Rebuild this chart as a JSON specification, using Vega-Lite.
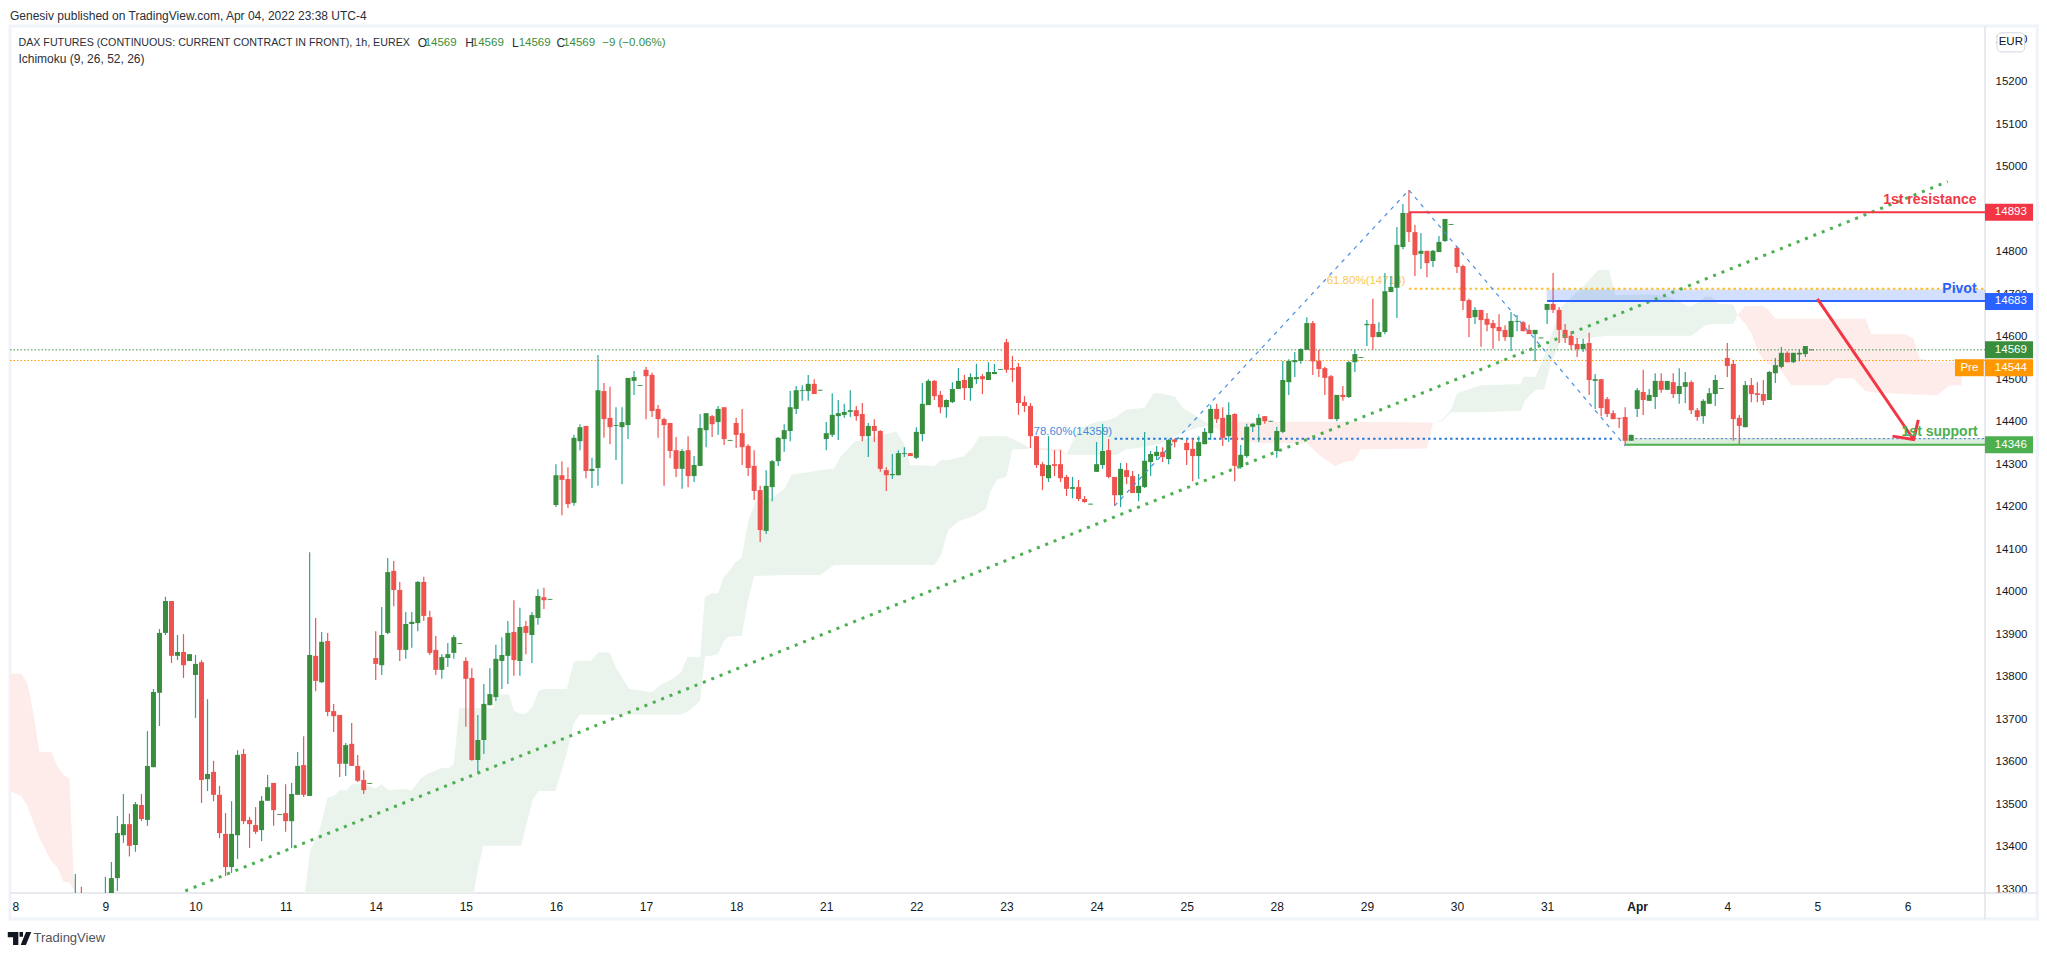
{
  "$schema": "https://vega.github.io/schema/vega-lite/v6.json",
  "description": "DAX futures 1h candles with Ichimoku cloud and drawn levels",
  "width": 1975,
  "height": 867,
  "autosize": {"type": "none"},
  "padding": {"left": 10, "top": 26, "right": 62, "bottom": 61},
  "background": "#ffffff",
  "config": {"view": {"stroke": null}, "text": {"font": "Liberation Sans"}},
  "datasets": {
    "frame": [{"i0": -0.88, "i1": 336.6, "p0": 15331, "p1": 13230}],
    "dividers": [
      {"i0": 327.9, "i1": 327.9, "p0": 15331, "p1": 13230},
      {"i0": -0.88, "i1": 336.6, "p0": 13291, "p1": 13291}
    ],
    "cloudRed": [
      {"part": 1, "i": -1.5, "a": 13807, "b": 13534}, {"part": 1, "i": 1, "a": 13807, "b": 13520}, {"part": 1, "i": 2, "a": 13785, "b": 13496},
      {"part": 1, "i": 3, "a": 13714, "b": 13458}, {"part": 1, "i": 4, "a": 13623, "b": 13420}, {"part": 1, "i": 6, "a": 13623, "b": 13365},
      {"part": 1, "i": 7, "a": 13590, "b": 13352}, {"part": 1, "i": 8, "a": 13570, "b": 13318}, {"part": 1, "i": 9, "a": 13560, "b": 13315},
      {"part": 1, "i": 9.7, "a": 13337, "b": 13300}, {"part": 1, "i": 10.2, "a": 13285, "b": 13285},
      {"part": 2, "i": 169, "a": 14337, "b": 14337}, {"part": 2, "i": 171, "a": 14338, "b": 14333}, {"part": 2, "i": 174, "a": 14336, "b": 14330}, {"part": 2, "i": 175, "a": 14322, "b": 14322},
      {"part": 3, "i": 199, "a": 14392, "b": 14392}, {"part": 3, "i": 203, "a": 14400, "b": 14358}, {"part": 3, "i": 207, "a": 14400, "b": 14349},
      {"part": 3, "i": 215, "a": 14400, "b": 14349}, {"part": 3, "i": 217, "a": 14400, "b": 14322}, {"part": 3, "i": 219.7, "a": 14400, "b": 14296},
      {"part": 3, "i": 221.4, "a": 14400, "b": 14306}, {"part": 3, "i": 222.8, "a": 14400, "b": 14308}, {"part": 3, "i": 224, "a": 14400, "b": 14335},
      {"part": 3, "i": 235, "a": 14398, "b": 14337}, {"part": 3, "i": 236, "a": 14397, "b": 14396},
      {"part": 4, "i": 286.7, "a": 14651, "b": 14651}, {"part": 4, "i": 288, "a": 14672, "b": 14630}, {"part": 4, "i": 289, "a": 14672, "b": 14608},
      {"part": 4, "i": 290, "a": 14672, "b": 14569}, {"part": 4, "i": 290.8, "a": 14672, "b": 14550}, {"part": 4, "i": 291.7, "a": 14665, "b": 14537},
      {"part": 4, "i": 293, "a": 14642, "b": 14528}, {"part": 4, "i": 294, "a": 14642, "b": 14521}, {"part": 4, "i": 295.6, "a": 14642, "b": 14486},
      {"part": 4, "i": 301.7, "a": 14642, "b": 14486}, {"part": 4, "i": 303, "a": 14642, "b": 14502}, {"part": 4, "i": 306, "a": 14642, "b": 14502},
      {"part": 4, "i": 307, "a": 14642, "b": 14486}, {"part": 4, "i": 308, "a": 14642, "b": 14472}, {"part": 4, "i": 309, "a": 14606, "b": 14470},
      {"part": 4, "i": 310, "a": 14606, "b": 14468}, {"part": 4, "i": 314.7, "a": 14606, "b": 14465}, {"part": 4, "i": 316, "a": 14596, "b": 14464},
      {"part": 4, "i": 317, "a": 14549, "b": 14464}, {"part": 4, "i": 318.9, "a": 14541, "b": 14463}, {"part": 4, "i": 320, "a": 14541, "b": 14463},
      {"part": 4, "i": 322, "a": 14541, "b": 14486}, {"part": 4, "i": 324, "a": 14541, "b": 14486}
    ],
    "cloudGreen": [
      {"part": 1, "i": 48, "a": 13270, "b": 13200}, {"part": 1, "i": 49.1, "a": 13392, "b": 13200}, {"part": 1, "i": 50.5, "a": 13431, "b": 13200},
      {"part": 1, "i": 52, "a": 13516, "b": 13200}, {"part": 1, "i": 53, "a": 13519, "b": 13200}, {"part": 1, "i": 54, "a": 13533, "b": 13200},
      {"part": 1, "i": 55.2, "a": 13533, "b": 13200}, {"part": 1, "i": 56, "a": 13547, "b": 13200}, {"part": 1, "i": 57.7, "a": 13547, "b": 13200},
      {"part": 1, "i": 58.8, "a": 13543, "b": 13200}, {"part": 1, "i": 60, "a": 13537, "b": 13200}, {"part": 1, "i": 61, "a": 13547, "b": 13200},
      {"part": 1, "i": 62.1, "a": 13533, "b": 13200}, {"part": 1, "i": 64.6, "a": 13536, "b": 13200}, {"part": 1, "i": 66, "a": 13532, "b": 13200},
      {"part": 1, "i": 67.4, "a": 13559, "b": 13200}, {"part": 1, "i": 68.5, "a": 13571, "b": 13200}, {"part": 1, "i": 71, "a": 13585, "b": 13200},
      {"part": 1, "i": 72.2, "a": 13585, "b": 13200}, {"part": 1, "i": 73, "a": 13595, "b": 13200}, {"part": 1, "i": 73.9, "a": 13726, "b": 13200},
      {"part": 1, "i": 76.3, "a": 13726, "b": 13290}, {"part": 1, "i": 77, "a": 13726, "b": 13345}, {"part": 1, "i": 77.9, "a": 13726, "b": 13402},
      {"part": 1, "i": 79.6, "a": 13726, "b": 13402}, {"part": 1, "i": 79.9, "a": 13758, "b": 13402}, {"part": 1, "i": 82.2, "a": 13758, "b": 13402},
      {"part": 1, "i": 83, "a": 13720, "b": 13402}, {"part": 1, "i": 84.2, "a": 13712, "b": 13402}, {"part": 1, "i": 85, "a": 13713, "b": 13447},
      {"part": 1, "i": 86.1, "a": 13729, "b": 13510}, {"part": 1, "i": 87.1, "a": 13765, "b": 13531}, {"part": 1, "i": 88, "a": 13771, "b": 13531},
      {"part": 1, "i": 89.9, "a": 13771, "b": 13531}, {"part": 1, "i": 90.8, "a": 13771, "b": 13573}, {"part": 1, "i": 91.8, "a": 13771, "b": 13620},
      {"part": 1, "i": 93, "a": 13836, "b": 13692}, {"part": 1, "i": 94, "a": 13837, "b": 13711}, {"part": 1, "i": 95.9, "a": 13838, "b": 13711},
      {"part": 1, "i": 97, "a": 13857, "b": 13711}, {"part": 1, "i": 98.9, "a": 13857, "b": 13711}, {"part": 1, "i": 100, "a": 13821, "b": 13711},
      {"part": 1, "i": 102.2, "a": 13771, "b": 13711}, {"part": 1, "i": 106, "a": 13764, "b": 13711}, {"part": 1, "i": 107.3, "a": 13780, "b": 13711},
      {"part": 1, "i": 109.8, "a": 13798, "b": 13711}, {"part": 1, "i": 110.9, "a": 13812, "b": 13711}, {"part": 1, "i": 111.9, "a": 13847, "b": 13718},
      {"part": 1, "i": 112.4, "a": 13847, "b": 13722}, {"part": 1, "i": 114, "a": 13845, "b": 13743}, {"part": 1, "i": 114.8, "a": 13988, "b": 13847},
      {"part": 1, "i": 115.9, "a": 13996, "b": 13850}, {"part": 1, "i": 117, "a": 13996, "b": 13853}, {"part": 1, "i": 117.9, "a": 14034, "b": 13882},
      {"part": 1, "i": 118.7, "a": 14045, "b": 13894}, {"part": 1, "i": 119.8, "a": 14068, "b": 13895}, {"part": 1, "i": 120.9, "a": 14080, "b": 13896},
      {"part": 1, "i": 122, "a": 14165, "b": 13980}, {"part": 1, "i": 123, "a": 14204, "b": 14037}, {"part": 1, "i": 123.4, "a": 14216, "b": 14037},
      {"part": 1, "i": 125.9, "a": 14220, "b": 14038}, {"part": 1, "i": 128.1, "a": 14243, "b": 14039}, {"part": 1, "i": 129.2, "a": 14275, "b": 14039},
      {"part": 1, "i": 134, "a": 14286, "b": 14039}, {"part": 1, "i": 136.3, "a": 14290, "b": 14063}, {"part": 1, "i": 137.4, "a": 14318, "b": 14063},
      {"part": 1, "i": 139.7, "a": 14353, "b": 14063}, {"part": 1, "i": 146.7, "a": 14377, "b": 14063}, {"part": 1, "i": 148.2, "a": 14341, "b": 14063},
      {"part": 1, "i": 149, "a": 14298, "b": 14063}, {"part": 1, "i": 153, "a": 14296, "b": 14063}, {"part": 1, "i": 154.1, "a": 14310, "b": 14086},
      {"part": 1, "i": 155.3, "a": 14310, "b": 14145}, {"part": 1, "i": 157, "a": 14315, "b": 14165}, {"part": 1, "i": 157.9, "a": 14318, "b": 14170},
      {"part": 1, "i": 159.4, "a": 14340, "b": 14177}, {"part": 1, "i": 160.5, "a": 14365, "b": 14185}, {"part": 1, "i": 161.6, "a": 14366, "b": 14196},
      {"part": 1, "i": 162.3, "a": 14366, "b": 14235}, {"part": 1, "i": 163.4, "a": 14366, "b": 14263}, {"part": 1, "i": 165, "a": 14366, "b": 14271},
      {"part": 1, "i": 166, "a": 14360, "b": 14335}, {"part": 1, "i": 167.5, "a": 14349, "b": 14335}, {"part": 1, "i": 169, "a": 14337, "b": 14337},
      {"part": 2, "i": 175, "a": 14322, "b": 14322}, {"part": 2, "i": 177, "a": 14384, "b": 14322}, {"part": 2, "i": 180, "a": 14400, "b": 14322},
      {"part": 2, "i": 182, "a": 14404, "b": 14322}, {"part": 2, "i": 183.4, "a": 14412, "b": 14322}, {"part": 2, "i": 184.5, "a": 14424, "b": 14332},
      {"part": 2, "i": 185, "a": 14428, "b": 14335}, {"part": 2, "i": 188, "a": 14433, "b": 14340}, {"part": 2, "i": 189.5, "a": 14467, "b": 14345},
      {"part": 2, "i": 190.5, "a": 14467, "b": 14348}, {"part": 2, "i": 193, "a": 14459, "b": 14365}, {"part": 2, "i": 194.5, "a": 14431, "b": 14375},
      {"part": 2, "i": 196.7, "a": 14412, "b": 14385}, {"part": 2, "i": 199, "a": 14392, "b": 14392},
      {"part": 3, "i": 236.5, "a": 14397, "b": 14397}, {"part": 3, "i": 237.8, "a": 14408, "b": 14405}, {"part": 3, "i": 239, "a": 14428, "b": 14422},
      {"part": 3, "i": 240, "a": 14467, "b": 14422}, {"part": 3, "i": 244, "a": 14486, "b": 14422}, {"part": 3, "i": 250, "a": 14488, "b": 14426},
      {"part": 3, "i": 250.7, "a": 14490, "b": 14426}, {"part": 3, "i": 251, "a": 14506, "b": 14440}, {"part": 3, "i": 251.4, "a": 14506, "b": 14451},
      {"part": 3, "i": 253.1, "a": 14506, "b": 14475}, {"part": 3, "i": 254.5, "a": 14553, "b": 14476}, {"part": 3, "i": 255.6, "a": 14600, "b": 14537},
      {"part": 3, "i": 257.4, "a": 14671, "b": 14592}, {"part": 3, "i": 261.2, "a": 14721, "b": 14595}, {"part": 3, "i": 263.5, "a": 14757, "b": 14600},
      {"part": 3, "i": 265.3, "a": 14757, "b": 14602}, {"part": 3, "i": 266.4, "a": 14698, "b": 14602}, {"part": 3, "i": 272, "a": 14700, "b": 14602},
      {"part": 3, "i": 275, "a": 14695, "b": 14602}, {"part": 3, "i": 277, "a": 14682, "b": 14602}, {"part": 3, "i": 278.6, "a": 14671, "b": 14602},
      {"part": 3, "i": 279, "a": 14672, "b": 14602}, {"part": 3, "i": 280, "a": 14680, "b": 14612}, {"part": 3, "i": 281.4, "a": 14694, "b": 14627},
      {"part": 3, "i": 282.5, "a": 14694, "b": 14630}, {"part": 3, "i": 283.4, "a": 14678, "b": 14630}, {"part": 3, "i": 286, "a": 14676, "b": 14630},
      {"part": 3, "i": 286.7, "a": 14651, "b": 14651}
    ],
    "candles": [
      {"i":10,"o":13240,"h":13336,"l":13200,"c":13270},{"i":11,"o":13280,"h":13306,"l":13230,"c":13250},{"i":15,"o":13250,"h":13329,"l":13230,"c":13285},
      {"i":16,"o":13285,"h":13364,"l":13250,"c":13326},{"i":17,"o":13326,"h":13472,"l":13296,"c":13432},{"i":18,"o":13427,"h":13524,"l":13409,"c":13453},
      {"i":19,"o":13453,"h":13478,"l":13377,"c":13402},{"i":20,"o":13404,"h":13505,"l":13388,"c":13500},{"i":21,"o":13498,"h":13524,"l":13460,"c":13465},
      {"i":22,"o":13463,"h":13672,"l":13449,"c":13590},{"i":23,"o":13587,"h":13771,"l":13587,"c":13764},{"i":24,"o":13762,"h":13912,"l":13684,"c":13903},
      {"i":25,"o":13903,"h":13988,"l":13898,"c":13978},{"i":26,"o":13978,"h":13978,"l":13832,"c":13849},{"i":27,"o":13849,"h":13898,"l":13839,"c":13858},
      {"i":28,"o":13858,"h":13900,"l":13797,"c":13827},{"i":29,"o":13837,"h":13853,"l":13837,"c":13853},{"i":30,"o":13804,"h":13851,"l":13703,"c":13830},
      {"i":31,"o":13834,"h":13839,"l":13503,"c":13557},{"i":32,"o":13559,"h":13747,"l":13531,"c":13571},{"i":33,"o":13576,"h":13602,"l":13507,"c":13522},
      {"i":34,"o":13522,"h":13543,"l":13420,"c":13432},{"i":35,"o":13430,"h":13479,"l":13331,"c":13352},{"i":36,"o":13352,"h":13507,"l":13338,"c":13430},
      {"i":37,"o":13427,"h":13627,"l":13371,"c":13616},{"i":38,"o":13618,"h":13630,"l":13453,"c":13460},{"i":39,"o":13463,"h":13470,"l":13397,"c":13453},
      {"i":40,"o":13451,"h":13493,"l":13430,"c":13435},{"i":41,"o":13439,"h":13519,"l":13413,"c":13508},{"i":42,"o":13508,"h":13569,"l":13508,"c":13540},
      {"i":43,"o":13550,"h":13550,"l":13449,"c":13486},{"i":44,"o":13475,"h":13477,"l":13475,"c":13477},{"i":45,"o":13479,"h":13547,"l":13435,"c":13460},
      {"i":46,"o":13460,"h":13550,"l":13397,"c":13524},{"i":47,"o":13522,"h":13623,"l":13522,"c":13590},{"i":48,"o":13592,"h":13660,"l":13517,"c":13522},
      {"i":49,"o":13519,"h":14093,"l":13519,"c":13851},{"i":50,"o":13849,"h":13938,"l":13766,"c":13790},{"i":51,"o":13787,"h":13905,"l":13785,"c":13882},
      {"i":52,"o":13884,"h":13903,"l":13707,"c":13717},{"i":53,"o":13719,"h":13736,"l":13670,"c":13707},{"i":54,"o":13710,"h":13710,"l":13564,"c":13595},
      {"i":55,"o":13595,"h":13644,"l":13566,"c":13639},{"i":56,"o":13642,"h":13691,"l":13590,"c":13590},{"i":57,"o":13590,"h":13616,"l":13552,"c":13555},
      {"i":58,"o":13557,"h":13580,"l":13524,"c":13533},{"i":59,"o":13548,"h":13550,"l":13548,"c":13550},
      {"i":60,"o":13844,"h":13907,"l":13792,"c":13830},{"i":61,"o":13827,"h":13964,"l":13804,"c":13898},{"i":62,"o":13903,"h":14079,"l":13900,"c":14046},
      {"i":63,"o":14049,"h":14072,"l":13966,"c":14004},{"i":64,"o":14004,"h":14023,"l":13837,"c":13863},{"i":65,"o":13863,"h":13952,"l":13842,"c":13924},
      {"i":66,"o":13924,"h":13952,"l":13868,"c":13929},{"i":67,"o":13926,"h":14025,"l":13907,"c":14023},{"i":68,"o":14023,"h":14035,"l":13931,"c":13943},
      {"i":69,"o":13940,"h":13955,"l":13851,"c":13856},{"i":70,"o":13863,"h":13896,"l":13804,"c":13816},{"i":71,"o":13816,"h":13853,"l":13795,"c":13846},
      {"i":72,"o":13844,"h":13879,"l":13823,"c":13853},{"i":73,"o":13856,"h":13898,"l":13842,"c":13893},{"i":74,"o":13877,"h":13879,"l":13877,"c":13879},
      {"i":75,"o":13837,"h":13846,"l":13682,"c":13795},{"i":76,"o":13797,"h":13820,"l":13602,"c":13604},{"i":77,"o":13604,"h":13710,"l":13573,"c":13651},
      {"i":78,"o":13651,"h":13783,"l":13618,"c":13736},{"i":79,"o":13733,"h":13820,"l":13733,"c":13759},{"i":80,"o":13752,"h":13875,"l":13743,"c":13842},
      {"i":81,"o":13837,"h":13893,"l":13771,"c":13851},{"i":82,"o":13849,"h":13931,"l":13783,"c":13903},{"i":83,"o":13905,"h":13980,"l":13802,"c":13839},
      {"i":84,"o":13837,"h":13962,"l":13802,"c":13917},{"i":85,"o":13919,"h":13931,"l":13853,"c":13903},{"i":86,"o":13898,"h":13952,"l":13832,"c":13945},
      {"i":87,"o":13938,"h":14006,"l":13922,"c":13990},{"i":88,"o":13987,"h":14009,"l":13959,"c":13980},{"i":89,"o":13981,"h":13983,"l":13981,"c":13983},
      {"i":90,"o":14204,"h":14300,"l":14199,"c":14274},{"i":91,"o":14274,"h":14307,"l":14180,"c":14263},{"i":92,"o":14265,"h":14293,"l":14197,"c":14206},
      {"i":93,"o":14209,"h":14369,"l":14202,"c":14362},{"i":94,"o":14354,"h":14394,"l":14333,"c":14387},{"i":95,"o":14390,"h":14390,"l":14267,"c":14284},
      {"i":96,"o":14284,"h":14315,"l":14244,"c":14289},{"i":97,"o":14291,"h":14557,"l":14249,"c":14474},{"i":98,"o":14472,"h":14491,"l":14362,"c":14406},
      {"i":99,"o":14409,"h":14482,"l":14347,"c":14387},{"i":100,"o":14390,"h":14434,"l":14310,"c":14392},{"i":101,"o":14387,"h":14434,"l":14253,"c":14399},
      {"i":102,"o":14392,"h":14503,"l":14359,"c":14503},{"i":103,"o":14496,"h":14519,"l":14463,"c":14505},{"i":104,"o":14484,"h":14486,"l":14484,"c":14486},
      {"i":105,"o":14522,"h":14529,"l":14406,"c":14507},{"i":106,"o":14510,"h":14515,"l":14411,"c":14425},{"i":107,"o":14430,"h":14439,"l":14362,"c":14406},
      {"i":108,"o":14406,"h":14409,"l":14249,"c":14392},{"i":109,"o":14397,"h":14397,"l":14314,"c":14331},{"i":110,"o":14333,"h":14364,"l":14270,"c":14289},
      {"i":111,"o":14289,"h":14336,"l":14242,"c":14331},{"i":112,"o":14333,"h":14366,"l":14246,"c":14272},{"i":113,"o":14272,"h":14319,"l":14258,"c":14298},
      {"i":114,"o":14296,"h":14418,"l":14295,"c":14385},{"i":115,"o":14380,"h":14420,"l":14340,"c":14420},{"i":116,"o":14413,"h":14416,"l":14364,"c":14394},
      {"i":117,"o":14399,"h":14437,"l":14369,"c":14430},{"i":118,"o":14434,"h":14434,"l":14345,"c":14359},{"i":119,"o":14355,"h":14357,"l":14355,"c":14357},
      {"i":120,"o":14397,"h":14409,"l":14338,"c":14369},{"i":121,"o":14373,"h":14430,"l":14298,"c":14340},{"i":122,"o":14343,"h":14347,"l":14272,"c":14291},
      {"i":123,"o":14296,"h":14333,"l":14216,"c":14237},{"i":124,"o":14239,"h":14249,"l":14117,"c":14145},{"i":125,"o":14143,"h":14286,"l":14136,"c":14249},
      {"i":126,"o":14246,"h":14310,"l":14213,"c":14307},{"i":127,"o":14307,"h":14364,"l":14296,"c":14362},{"i":128,"o":14359,"h":14394,"l":14329,"c":14380},
      {"i":129,"o":14378,"h":14472,"l":14354,"c":14434},{"i":130,"o":14430,"h":14484,"l":14418,"c":14474},{"i":131,"o":14472,"h":14486,"l":14449,"c":14474},
      {"i":132,"o":14472,"h":14510,"l":14449,"c":14489},{"i":133,"o":14489,"h":14500,"l":14465,"c":14465},{"i":134,"o":14473,"h":14475,"l":14473,"c":14475},
      {"i":135,"o":14359,"h":14399,"l":14333,"c":14373},{"i":136,"o":14369,"h":14467,"l":14364,"c":14416},{"i":137,"o":14413,"h":14451,"l":14357,"c":14420},
      {"i":138,"o":14416,"h":14442,"l":14409,"c":14423},{"i":139,"o":14423,"h":14474,"l":14411,"c":14427},{"i":140,"o":14427,"h":14437,"l":14402,"c":14413},
      {"i":141,"o":14418,"h":14444,"l":14354,"c":14366},{"i":142,"o":14366,"h":14397,"l":14317,"c":14390},{"i":143,"o":14390,"h":14406,"l":14352,"c":14378},
      {"i":144,"o":14378,"h":14380,"l":14282,"c":14289},{"i":145,"o":14286,"h":14293,"l":14237,"c":14274},{"i":146,"o":14274,"h":14324,"l":14265,"c":14277},
      {"i":147,"o":14274,"h":14333,"l":14274,"c":14326},{"i":148,"o":14324,"h":14340,"l":14317,"c":14326},{"i":149,"o":14326,"h":14326,"l":14319,"c":14319},
      {"i":150,"o":14315,"h":14387,"l":14312,"c":14376},{"i":151,"o":14371,"h":14491,"l":14354,"c":14442},{"i":152,"o":14439,"h":14500,"l":14439,"c":14496},
      {"i":153,"o":14496,"h":14498,"l":14451,"c":14460},{"i":154,"o":14463,"h":14472,"l":14420,"c":14434},{"i":155,"o":14434,"h":14453,"l":14409,"c":14451},
      {"i":156,"o":14446,"h":14493,"l":14444,"c":14477},{"i":157,"o":14477,"h":14526,"l":14477,"c":14496},{"i":158,"o":14498,"h":14510,"l":14451,"c":14479},
      {"i":159,"o":14479,"h":14514,"l":14449,"c":14505},{"i":160,"o":14500,"h":14536,"l":14489,"c":14505},{"i":161,"o":14507,"h":14512,"l":14465,"c":14500},
      {"i":162,"o":14498,"h":14540,"l":14498,"c":14517},{"i":163,"o":14512,"h":14536,"l":14512,"c":14517},{"i":164,"o":14522,"h":14524,"l":14522,"c":14524},
      {"i":165,"o":14587,"h":14595,"l":14515,"c":14522},{"i":166,"o":14526,"h":14555,"l":14493,"c":14522},{"i":167,"o":14529,"h":14538,"l":14416,"c":14444},
      {"i":168,"o":14446,"h":14460,"l":14423,"c":14437},{"i":169,"o":14437,"h":14444,"l":14338,"c":14366},{"i":170,"o":14366,"h":14366,"l":14291,"c":14298},
      {"i":171,"o":14300,"h":14305,"l":14239,"c":14272},{"i":172,"o":14267,"h":14366,"l":14258,"c":14298},{"i":173,"o":14300,"h":14333,"l":14272,"c":14296},
      {"i":174,"o":14300,"h":14333,"l":14258,"c":14267},{"i":175,"o":14270,"h":14275,"l":14225,"c":14242},{"i":176,"o":14242,"h":14270,"l":14220,"c":14246},
      {"i":177,"o":14246,"h":14263,"l":14213,"c":14218},{"i":178,"o":14218,"h":14225,"l":14209,"c":14211},{"i":179,"o":14205,"h":14207,"l":14205,"c":14207},
      {"i":180,"o":14282,"h":14352,"l":14282,"c":14300},{"i":181,"o":14298,"h":14395,"l":14289,"c":14331},{"i":182,"o":14333,"h":14359,"l":14267,"c":14270},
      {"i":183,"o":14270,"h":14270,"l":14202,"c":14227},{"i":184,"o":14227,"h":14303,"l":14199,"c":14289},{"i":185,"o":14286,"h":14303,"l":14253,"c":14270},
      {"i":186,"o":14272,"h":14284,"l":14232,"c":14232},{"i":187,"o":14232,"h":14277,"l":14213,"c":14249},{"i":188,"o":14246,"h":14376,"l":14244,"c":14308},
      {"i":189,"o":14305,"h":14331,"l":14272,"c":14324},{"i":190,"o":14319,"h":14343,"l":14310,"c":14329},{"i":191,"o":14329,"h":14340,"l":14305,"c":14317},
      {"i":192,"o":14312,"h":14359,"l":14300,"c":14357},{"i":193,"o":14358,"h":14360,"l":14340,"c":14352},{"i":194,"o":14359,"h":14361,"l":14359,"c":14361},
      {"i":195,"o":14350,"h":14357,"l":14298,"c":14333},{"i":196,"o":14336,"h":14359,"l":14260,"c":14319},{"i":197,"o":14319,"h":14366,"l":14265,"c":14352},
      {"i":198,"o":14347,"h":14385,"l":14347,"c":14376},{"i":199,"o":14373,"h":14439,"l":14357,"c":14430},{"i":200,"o":14430,"h":14442,"l":14397,"c":14406},
      {"i":201,"o":14409,"h":14434,"l":14343,"c":14362},{"i":202,"o":14366,"h":14446,"l":14352,"c":14416},{"i":203,"o":14418,"h":14420,"l":14260,"c":14296},
      {"i":204,"o":14293,"h":14345,"l":14289,"c":14322},{"i":205,"o":14319,"h":14395,"l":14315,"c":14388},{"i":206,"o":14388,"h":14397,"l":14376,"c":14395},
      {"i":207,"o":14392,"h":14418,"l":14352,"c":14409},{"i":208,"o":14413,"h":14413,"l":14395,"c":14401},{"i":209,"o":14400,"h":14402,"l":14400,"c":14402},
      {"i":210,"o":14331,"h":14388,"l":14315,"c":14378},{"i":211,"o":14376,"h":14543,"l":14373,"c":14498},{"i":212,"o":14493,"h":14547,"l":14463,"c":14543},
      {"i":213,"o":14540,"h":14564,"l":14505,"c":14545},{"i":214,"o":14543,"h":14573,"l":14536,"c":14571},{"i":215,"o":14569,"h":14646,"l":14569,"c":14632},
      {"i":216,"o":14632,"h":14637,"l":14510,"c":14542},{"i":217,"o":14543,"h":14569,"l":14505,"c":14524},{"i":218,"o":14526,"h":14529,"l":14463,"c":14503},
      {"i":219,"o":14507,"h":14510,"l":14406,"c":14406},{"i":220,"o":14406,"h":14463,"l":14401,"c":14463},{"i":221,"o":14463,"h":14484,"l":14449,"c":14458},
      {"i":222,"o":14458,"h":14543,"l":14456,"c":14540},{"i":223,"o":14540,"h":14569,"l":14517,"c":14559},{"i":224,"o":14550,"h":14552,"l":14550,"c":14552},
      {"i":225,"o":14627,"h":14639,"l":14578,"c":14630},{"i":226,"o":14630,"h":14689,"l":14569,"c":14599},{"i":227,"o":14599,"h":14634,"l":14599,"c":14611},
      {"i":228,"o":14611,"h":14750,"l":14606,"c":14707},{"i":229,"o":14705,"h":14743,"l":14705,"c":14717},{"i":230,"o":14715,"h":14858,"l":14644,"c":14816},
      {"i":231,"o":14811,"h":14912,"l":14806,"c":14891},{"i":232,"o":14891,"h":14945,"l":14823,"c":14846},{"i":233,"o":14846,"h":14863,"l":14743,"c":14792},
      {"i":234,"o":14795,"h":14844,"l":14759,"c":14802},{"i":235,"o":14802,"h":14802,"l":14740,"c":14773},{"i":236,"o":14778,"h":14804,"l":14764,"c":14802},
      {"i":237,"o":14799,"h":14837,"l":14799,"c":14823},{"i":238,"o":14825,"h":14877,"l":14823,"c":14877},{"i":239,"o":14863,"h":14865,"l":14863,"c":14865},
      {"i":240,"o":14809,"h":14813,"l":14750,"c":14764},{"i":241,"o":14766,"h":14769,"l":14663,"c":14684},{"i":242,"o":14686,"h":14689,"l":14599,"c":14644},
      {"i":243,"o":14646,"h":14670,"l":14630,"c":14663},{"i":244,"o":14663,"h":14663,"l":14576,"c":14639},{"i":245,"o":14642,"h":14656,"l":14613,"c":14628},
      {"i":246,"o":14632,"h":14639,"l":14571,"c":14620},{"i":247,"o":14623,"h":14653,"l":14590,"c":14613},{"i":248,"o":14616,"h":14627,"l":14590,"c":14599},
      {"i":249,"o":14599,"h":14658,"l":14566,"c":14637},{"i":250,"o":14635,"h":14651,"l":14613,"c":14637},{"i":251,"o":14634,"h":14637,"l":14613,"c":14613},
      {"i":252,"o":14616,"h":14628,"l":14606,"c":14606},{"i":253,"o":14606,"h":14616,"l":14542,"c":14616},{"i":254,"o":14596,"h":14598,"l":14596,"c":14598},
      {"i":255,"o":14663,"h":14677,"l":14630,"c":14677},{"i":256,"o":14677,"h":14750,"l":14656,"c":14663},{"i":257,"o":14663,"h":14670,"l":14585,"c":14616},
      {"i":258,"o":14616,"h":14630,"l":14585,"c":14597},{"i":259,"o":14602,"h":14613,"l":14569,"c":14580},{"i":260,"o":14583,"h":14597,"l":14552,"c":14571},
      {"i":261,"o":14571,"h":14595,"l":14564,"c":14583},{"i":262,"o":14585,"h":14609,"l":14463,"c":14498},{"i":263,"o":14496,"h":14512,"l":14430,"c":14500},
      {"i":264,"o":14500,"h":14500,"l":14413,"c":14432},{"i":265,"o":14453,"h":14458,"l":14411,"c":14418},{"i":266,"o":14420,"h":14427,"l":14406,"c":14406},
      {"i":267,"o":14409,"h":14409,"l":14385,"c":14407},{"i":268,"o":14411,"h":14434,"l":14343,"c":14355},{"i":269,"o":14355,"h":14369,"l":14355,"c":14369},
      {"i":270,"o":14430,"h":14479,"l":14411,"c":14474},{"i":271,"o":14470,"h":14522,"l":14416,"c":14451},{"i":272,"o":14449,"h":14477,"l":14449,"c":14463},
      {"i":273,"o":14458,"h":14514,"l":14430,"c":14496},{"i":274,"o":14496,"h":14514,"l":14468,"c":14475},{"i":275,"o":14475,"h":14496,"l":14475,"c":14496},
      {"i":276,"o":14493,"h":14514,"l":14456,"c":14465},{"i":277,"o":14465,"h":14526,"l":14442,"c":14484},{"i":278,"o":14482,"h":14517,"l":14444,"c":14493},
      {"i":279,"o":14493,"h":14497,"l":14418,"c":14427},{"i":280,"o":14427,"h":14432,"l":14402,"c":14411},{"i":281,"o":14413,"h":14453,"l":14395,"c":14449},
      {"i":282,"o":14442,"h":14479,"l":14442,"c":14467},{"i":283,"o":14465,"h":14510,"l":14437,"c":14498},{"i":284,"o":14477,"h":14479,"l":14477,"c":14479},
      {"i":285,"o":14550,"h":14585,"l":14505,"c":14531},{"i":286,"o":14536,"h":14545,"l":14355,"c":14406},{"i":287,"o":14409,"h":14416,"l":14347,"c":14390},
      {"i":288,"o":14387,"h":14496,"l":14387,"c":14486},{"i":289,"o":14486,"h":14503,"l":14446,"c":14465},{"i":290,"o":14467,"h":14493,"l":14446,"c":14463},
      {"i":291,"o":14465,"h":14498,"l":14439,"c":14449},{"i":292,"o":14451,"h":14519,"l":14451,"c":14517},{"i":293,"o":14514,"h":14550,"l":14491,"c":14533},
      {"i":294,"o":14529,"h":14576,"l":14526,"c":14562},{"i":295,"o":14562,"h":14566,"l":14540,"c":14540},{"i":296,"o":14540,"h":14562,"l":14538,"c":14562},
      {"i":297,"o":14558,"h":14571,"l":14542,"c":14562},{"i":298,"o":14559,"h":14578,"l":14552,"c":14578},{"i":299,"o":14568,"h":14570,"l":14568,"c":14570}
    ],
    "levels": [
      {"kind": "resistance", "i0": 232, "i1": 327.9, "p": 14893},
      {"kind": "pivot", "i0": 255, "i1": 327.9, "p": 14684},
      {"kind": "support", "i0": 268, "i1": 327.9, "p": 14346}
    ],
    "priceLines": [
      {"kind": "close", "i0": -0.88, "i1": 327.9, "p": 14569},
      {"kind": "pre", "i0": -0.88, "i1": 327.9, "p": 14544}
    ],
    "fibLines": [
      {"kind": "fib786", "i0": 183, "i1": 266, "p": 14360},
      {"kind": "fib618", "i0": 232, "i1": 327.9, "p": 14713}
    ],
    "fibThin": [{"kind": "fib786", "i0": 269.7, "i1": 327.9, "p": 14360}],
    "zones": [
      {"kind": "pivot", "i0": 255, "i1": 327.9, "p0": 14710, "p1": 14684},
      {"kind": "support", "i0": 268, "i1": 327.9, "p0": 14360, "p1": 14346}
    ],
    "trend": [{"i": 28.3, "p": 13296}, {"i": 321.7, "p": 14965}],
    "zigzag": [{"i": 183, "p": 14202}, {"i": 232, "p": 14945}, {"i": 268, "p": 14343}],
    "arrow": [
      {"part": "shaft", "i": 300, "p": 14689}, {"part": "shaft", "i": 316, "p": 14358},
      {"part": "head", "i": 312.5, "p": 14366}, {"part": "head", "i": 316, "p": 14358}, {"part": "head", "i": 316.8, "p": 14404}
    ],
    "tags": [
      {"kind": "resistance", "t": "14893", "i0": 327.9, "i1": 335.9, "p0": 14913, "p1": 14873, "i": 332.2, "p": 14893},
      {"kind": "pivot", "t": "14683", "i0": 327.9, "i1": 335.9, "p0": 14703, "p1": 14663, "i": 332.2, "p": 14683},
      {"kind": "closeTag", "t": "14569", "i0": 327.9, "i1": 335.9, "p0": 14589, "p1": 14549, "i": 332.2, "p": 14569},
      {"kind": "pre", "t": "14544", "i0": 327.9, "i1": 335.9, "p0": 14547, "p1": 14507, "i": 332.2, "p": 14527},
      {"kind": "pre", "t": "Pre", "i0": 322.9, "i1": 327.7, "p0": 14547, "p1": 14507, "i": 325.3, "p": 14527},
      {"kind": "support", "t": "14346", "i0": 327.9, "i1": 335.9, "p0": 14366, "p1": 14326, "i": 332.2, "p": 14346}
    ],
    "drawnText": [
      {"kind": "resistance", "t": "1st resistance", "i": 326.5, "p": 14922},
      {"kind": "pivot", "t": "Pivot", "i": 326.5, "p": 14712},
      {"kind": "support", "t": "1st support", "i": 326.7, "p": 14375}
    ],
    "fibText": [
      {"kind": "fib786", "t": "78.60%(14359)", "i": 169.5, "p": 14376},
      {"kind": "fib618", "t": "61.80%(14713)", "i": 218.3, "p": 14730}
    ],
    "header": [
      {"t": "Genesiv published on TradingView.com, Apr 04, 2022 23:38 UTC-4", "i": -0.88, "p": 15355},
      {"t": "O", "i": 67, "p": 15292},
      {"t": "H", "i": 74.9, "p": 15292},
      {"t": "L", "i": 82.7, "p": 15292},
      {"t": "C", "i": 90.1, "p": 15292},
      {"t": "Ichimoku (9, 26, 52, 26)", "i": 0.52, "p": 15253}
    ],
    "symbol": [{"t": "DAX FUTURES (CONTINUOUS: CURRENT CONTRACT IN FRONT), 1h, EUREX", "i": 0.52, "p": 15292}],
    "ohlc": [
      {"t": "14569", "i": 68.15, "p": 15292},
      {"t": "14569", "i": 76, "p": 15292},
      {"t": "14569", "i": 83.8, "p": 15292},
      {"t": "14569", "i": 91.2, "p": 15292},
      {"t": "\u22129 (\u22120.06%)", "i": 97.7, "p": 15292}
    ],
    "unit": [{"i0": 329.9, "i1": 334.5, "p0": 15315, "p1": 15270, "i": 332.2, "p": 15293, "t": "EUR"}],
    "brand": [{"i": 3.03, "p": 13184, "t": "TradingView"}],
    "brandMark": [{"i": 0.7, "p": 13184}]
  },
  "layer": [
    {
      "data": {"name": "frame"},
      "mark": {"type": "rect", "fill": null, "fillOpacity": 0, "stroke": "#f0f3fa", "strokeWidth": 3},
      "encoding": {
        "x": {
          "field": "i0", "type": "quantitative", "title": null,
          "scale": {"domain": [-0.882, 327.9], "nice": false, "zero": false, "padding": 0},
          "axis": {
            "orient": "bottom", "title": null, "domain": false, "ticks": false, "grid": false,
            "values": [0, 15, 30, 45, 60, 75, 90, 105, 120, 135, 150, 165, 180, 195, 210, 225, 240, 255, 270, 285, 300, 315],
            "labelExpr": "['8','9','10','11','14','15','16','17','18','21','22','23','24','25','28','29','30','31','Apr','4','5','6'][datum.value/15]",
            "labelFont": "Liberation Sans", "labelFontSize": 12, "labelColor": "#131722", "labelPadding": 8, "labelOverlap": false, "labelFlush": false,
            "labelFontWeight": {"condition": {"test": "datum.value==270", "value": "bold"}, "value": "normal"}
          }
        },
        "x2": {"field": "i1"},
        "y": {
          "field": "p0", "type": "quantitative", "title": null,
          "scale": {"domain": [13291, 15331], "nice": false, "zero": false},
          "axis": {
            "orient": "right", "title": null, "domain": false, "ticks": false, "grid": false,
            "values": [13300, 13400, 13500, 13600, 13700, 13800, 13900, 14000, 14100, 14200, 14300, 14400, 14500, 14600, 14700, 14800, 14900, 15000, 15100, 15200, 15300],
            "format": "d", "labelFont": "Liberation Sans", "labelFontSize": 11.5, "labelColor": "#131722", "labelAlign": "center", "labelPadding": 26, "labelOverlap": false, "labelFlush": false
          }
        },
        "y2": {"field": "p1"}
      }
    },
    {
      "data": {"name": "dividers"},
      "mark": {"type": "rule", "color": "#e0e3eb", "strokeWidth": 1.5},
      "encoding": {
        "x": {"field": "i0", "type": "quantitative"}, "x2": {"field": "i1"},
        "y": {"field": "p0", "type": "quantitative"}, "y2": {"field": "p1"}
      }
    },
    {
      "data": {"name": "cloudRed"},
      "mark": {"type": "area", "color": "#feecea", "clip": true},
      "encoding": {
        "x": {"field": "i", "type": "quantitative"},
        "y": {"field": "a", "type": "quantitative"}, "y2": {"field": "b"},
        "detail": {"field": "part"}
      }
    },
    {
      "data": {"name": "cloudGreen"},
      "mark": {"type": "area", "color": "#eaf4ec", "clip": true},
      "encoding": {
        "x": {"field": "i", "type": "quantitative"},
        "y": {"field": "a", "type": "quantitative"}, "y2": {"field": "b"},
        "detail": {"field": "part"}
      }
    },
    {
      "data": {"name": "fibText"},
      "mark": {"type": "text", "align": "left", "baseline": "middle", "fontSize": 11.5, "opacity": 0.85},
      "encoding": {
        "x": {"field": "i", "type": "quantitative"}, "y": {"field": "p", "type": "quantitative"},
        "text": {"field": "t"},
        "color": {"field": "kind", "type": "nominal", "legend": null, "scale": {
          "domain": ["resistance", "pivot", "support", "close", "closeTag", "pre", "fib786", "fib618"],
          "range": ["#f23645", "#2962ff", "#4caf50", "#388e3c", "#388e3c", "#ff9800", "#2979d9", "#fbc02d"]
        }}
      }
    },
    {
      "data": {"name": "priceLines"},
      "mark": {"type": "rule", "strokeWidth": 1, "strokeDash": [1.5, 2]},
      "encoding": {
        "x": {"field": "i0", "type": "quantitative"}, "x2": {"field": "i1"},
        "y": {"field": "p", "type": "quantitative"},
        "color": {"field": "kind", "type": "nominal", "legend": null}
      }
    },
    {
      "data": {"name": "fibLines"},
      "mark": {"type": "rule", "strokeWidth": 2, "strokeDash": [2.5, 3]},
      "encoding": {
        "x": {"field": "i0", "type": "quantitative"}, "x2": {"field": "i1"},
        "y": {"field": "p", "type": "quantitative"},
        "color": {"field": "kind", "type": "nominal", "legend": null}
      }
    },
    {
      "data": {"name": "fibThin"},
      "mark": {"type": "rule", "strokeWidth": 1, "strokeDash": [2, 2.5]},
      "encoding": {
        "x": {"field": "i0", "type": "quantitative"}, "x2": {"field": "i1"},
        "y": {"field": "p", "type": "quantitative"},
        "color": {"field": "kind", "type": "nominal", "legend": null}
      }
    },
    {
      "data": {"name": "candles"},
      "mark": {"type": "rule", "strokeWidth": 1.2, "clip": true},
      "encoding": {
        "x": {"field": "i", "type": "quantitative"},
        "y": {"field": "h", "type": "quantitative"}, "y2": {"field": "l"},
        "color": {"condition": {"test": "datum.c>=datum.o", "value": "#26a69a"}, "value": "#ef5350"}
      }
    },
    {
      "data": {"name": "candles"},
      "mark": {"type": "bar", "size": 5, "clip": true},
      "encoding": {
        "x": {"field": "i", "type": "quantitative"},
        "y": {"field": "o", "type": "quantitative"}, "y2": {"field": "c"},
        "color": {"condition": {"test": "datum.c>=datum.o", "value": "#388e3c"}, "value": "#ef5350"}
      }
    },
    {
      "data": {"name": "zones"},
      "mark": {"type": "rect", "opacity": 0.2, "stroke": "#787b86", "strokeWidth": 1},
      "encoding": {
        "x": {"field": "i0", "type": "quantitative"}, "x2": {"field": "i1"},
        "y": {"field": "p0", "type": "quantitative"}, "y2": {"field": "p1"},
        "color": {"field": "kind", "type": "nominal", "legend": null}
      }
    },
    {
      "data": {"name": "zigzag"},
      "mark": {"type": "line", "color": "#4a90e2", "strokeWidth": 1.2, "strokeDash": [4, 5]},
      "encoding": {
        "x": {"field": "i", "type": "quantitative"},
        "y": {"field": "p", "type": "quantitative"}
      }
    },
    {
      "data": {"name": "trend"},
      "mark": {"type": "line", "color": "#4caf50", "strokeWidth": 3, "strokeDash": [3, 6], "clip": true},
      "encoding": {
        "x": {"field": "i", "type": "quantitative"},
        "y": {"field": "p", "type": "quantitative"}
      }
    },
    {
      "data": {"name": "levels"},
      "mark": {"type": "rule", "strokeWidth": 2},
      "encoding": {
        "x": {"field": "i0", "type": "quantitative"}, "x2": {"field": "i1"},
        "y": {"field": "p", "type": "quantitative"},
        "color": {"field": "kind", "type": "nominal", "legend": null}
      }
    },
    {
      "data": {"name": "arrow"},
      "mark": {"type": "line", "color": "#f23645", "strokeWidth": 3},
      "encoding": {
        "x": {"field": "i", "type": "quantitative"},
        "y": {"field": "p", "type": "quantitative"},
        "detail": {"field": "part"}
      }
    },
    {
      "data": {"name": "drawnText"},
      "mark": {"type": "text", "align": "right", "baseline": "middle", "fontSize": 14, "fontWeight": "bold"},
      "encoding": {
        "x": {"field": "i", "type": "quantitative"}, "y": {"field": "p", "type": "quantitative"},
        "text": {"field": "t"},
        "color": {"field": "kind", "type": "nominal", "legend": null}
      }
    },
    {
      "data": {"name": "tags"},
      "mark": {"type": "rect"},
      "encoding": {
        "x": {"field": "i0", "type": "quantitative"}, "x2": {"field": "i1"},
        "y": {"field": "p0", "type": "quantitative"}, "y2": {"field": "p1"},
        "color": {"field": "kind", "type": "nominal", "legend": null}
      }
    },
    {
      "data": {"name": "tags"},
      "mark": {"type": "text", "align": "center", "baseline": "middle", "fontSize": 11.5, "color": "#ffffff"},
      "encoding": {
        "x": {"field": "i", "type": "quantitative"}, "y": {"field": "p", "type": "quantitative"},
        "text": {"field": "t"}
      }
    },
    {
      "data": {"name": "unit"},
      "mark": {"type": "rect", "fill": "#ffffff", "stroke": "#d6d8e0", "strokeWidth": 1, "cornerRadius": 4},
      "encoding": {
        "x": {"field": "i0", "type": "quantitative"}, "x2": {"field": "i1"},
        "y": {"field": "p0", "type": "quantitative"}, "y2": {"field": "p1"}
      }
    },
    {
      "data": {"name": "unit"},
      "mark": {"type": "text", "align": "center", "baseline": "middle", "fontSize": 11.5, "color": "#131722"},
      "encoding": {
        "x": {"field": "i", "type": "quantitative"}, "y": {"field": "p", "type": "quantitative"},
        "text": {"field": "t"}
      }
    },
    {
      "data": {"name": "header"},
      "mark": {"type": "text", "align": "left", "baseline": "middle", "fontSize": 12, "color": "#2a2e39"},
      "encoding": {
        "x": {"field": "i", "type": "quantitative"}, "y": {"field": "p", "type": "quantitative"},
        "text": {"field": "t"}
      }
    },
    {
      "data": {"name": "symbol"},
      "mark": {"type": "text", "align": "left", "baseline": "middle", "fontSize": 10.7, "color": "#2a2e39"},
      "encoding": {
        "x": {"field": "i", "type": "quantitative"}, "y": {"field": "p", "type": "quantitative"},
        "text": {"field": "t"}
      }
    },
    {
      "data": {"name": "ohlc"},
      "mark": {"type": "text", "align": "left", "baseline": "middle", "fontSize": 11.5, "color": "#388e3c"},
      "encoding": {
        "x": {"field": "i", "type": "quantitative"}, "y": {"field": "p", "type": "quantitative"},
        "text": {"field": "t"}
      }
    },
    {
      "data": {"name": "brand"},
      "mark": {"type": "text", "align": "left", "baseline": "middle", "fontSize": 13, "color": "#50535e"},
      "encoding": {
        "x": {"field": "i", "type": "quantitative"}, "y": {"field": "p", "type": "quantitative"},
        "text": {"field": "t"}
      }
    },
    {
      "data": {"name": "brandMark"},
      "mark": {
        "type": "point", "filled": true, "color": "#131722", "opacity": 1, "size": 550,
        "shape": "M-1 -0.55H-0.1V0.55H-0.55V-0.1H-1ZM0 -0.55H0.3V-0.15H0ZM0.55 -0.55H1L0.55 0.55H0.1Z"
      },
      "encoding": {
        "x": {"field": "i", "type": "quantitative"}, "y": {"field": "p", "type": "quantitative"}
      }
    }
  ]
}
